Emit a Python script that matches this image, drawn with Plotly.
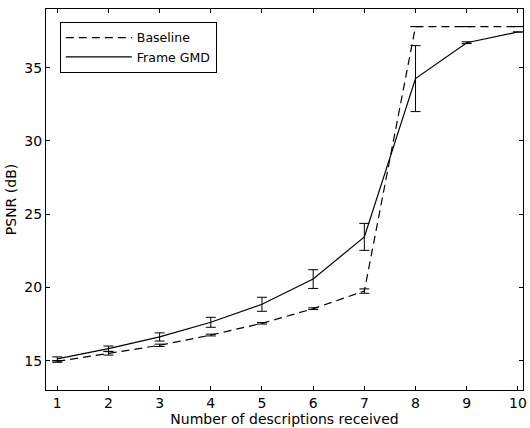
import plotly.graph_objects as go

x_vals = [1, 2, 3, 4, 5, 6, 7, 8, 9, 10]
baseline = [14.95, 15.5, 16.05, 16.75, 17.55, 18.55, 19.75, 37.8, 37.8, 37.8]
baseline_err = [0.06, 0.12, 0.08, 0.06, 0.05, 0.06, 0.15, 0.0, 0.0, 0.0]
gmd = [15.12, 15.82, 16.62, 17.62, 18.85, 20.57, 23.45, 34.25, 36.7, 37.43]
gmd_err = [0.14, 0.18, 0.28, 0.34, 0.48, 0.64, 0.92, 2.25, 0.06, 0.0]

x_ticks = [1, 2, 3, 4, 5, 6, 7, 8, 9, 10]
y_ticks = [15, 20, 25, 30, 35]

font = dict(family="DejaVu Sans, Arial, sans-serif", size=14, color="black")
legend_font = dict(family="DejaVu Sans, Arial, sans-serif", size=12.5, color="black")

fig = go.Figure()
fig.add_trace(go.Scatter(
    x=x_vals, y=baseline, mode="lines", name="Baseline",
    line=dict(color="black", width=1.2, dash="8px,5px"),
    error_y=dict(type="data", array=baseline_err, visible=True,
                 color="black", thickness=1, width=5),
))
fig.add_trace(go.Scatter(
    x=x_vals, y=gmd, mode="lines", name="Frame GMD",
    line=dict(color="black", width=1.2),
    error_y=dict(type="data", array=gmd_err, visible=True,
                 color="black", thickness=1, width=5),
))

axis_common = dict(
    showline=True, linecolor="black", linewidth=1, mirror="ticks",
    ticks="inside", ticklen=4, tickcolor="black", showgrid=False,
    zeroline=False, tickfont=font,
)
fig.update_xaxes(range=[0.78, 10.1], tickvals=x_ticks, ticklabeloverflow="allow",
                 title=dict(text="Number of descriptions received", font=font, standoff=0),
                 **axis_common)
fig.update_yaxes(range=[13, 39], tickvals=y_ticks,
                 title=dict(text="PSNR (dB)", font=font, standoff=4),
                 **axis_common)

fig.update_layout(
    width=530, height=428,
    margin=dict(l=46, r=3, t=9, b=38),
    paper_bgcolor="white", plot_bgcolor="white",
    font=font,
    showlegend=True,
    legend=dict(x=0.029, y=0.966, xanchor="left", yanchor="top",
                bordercolor="black", borderwidth=1, bgcolor="white",
                font=legend_font, tracegroupgap=0, itemwidth=66),
)

fig.write_html("out.html", post_script="document.body.style.margin='0';",
               config={"displayModeBar": False})
